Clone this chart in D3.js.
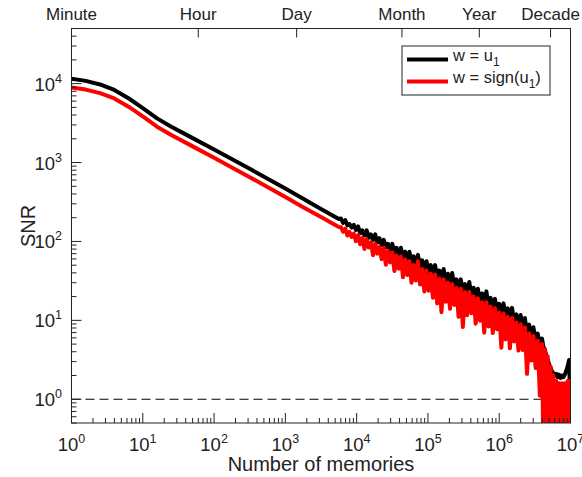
<!DOCTYPE html>
<html><head><meta charset="utf-8">
<script src="https://cdn.jsdelivr.net/npm/d3@7"></script>
<style>body{margin:0;background:#fff}svg text{font-family:"Liberation Sans",Arial,Helvetica,sans-serif;fill:#222}</style>
</head><body>
<script>
// ---- data ----
const smoothLogN = [0, 0.2, 0.4, 0.6, 0.8, 1.0, 1.2, 1.4, 1.7, 2.0, 2.5, 3.0, 3.25, 3.5, 3.75];
const blackSmooth = [11530, 10840, 9770, 8320, 6530, 4900, 3630, 2850, 2040, 1462, 832, 468, 347, 257, 193];
const redSmooth = [8950, 8410, 7590, 6490, 5110, 3850, 2850, 2240, 1603, 1148, 653, 367, 272, 204, 153];

const noisyLogN = [
  3.78,3.81,3.84,3.87,3.90,3.93,3.96,3.99,
  4.02,4.05,4.08,4.11,4.14,4.17,4.20,4.23,4.26,4.29,4.32,4.35,4.38,4.41,4.44,4.47,4.50,
  4.53,4.56,4.59,4.62,4.65,4.68,4.71,4.74,4.77,4.80,4.83,4.86,4.89,4.92,4.95,4.98,
  5.01,5.04,5.07,5.10,5.13,5.16,5.19,5.22,5.25,5.28,5.31,5.34,5.37,5.40,5.43,5.46,5.49,
  5.52,5.55,5.58,5.61,5.64,5.67,5.70,5.73,5.76,5.79,5.82,5.85,5.88,5.91,5.94,5.97,6.00,
  6.03,6.06,6.09,6.12,6.15,6.18,6.21,6.24,6.27,6.30,6.33,6.36,6.39,6.42,6.45,6.48,6.51,6.54,6.57,6.60,
  6.62,6.64,6.66,6.68,6.70,6.72,6.74,6.76,6.78,6.80,6.82,6.84,6.86,6.88,6.90,6.92,6.94,6.96,6.98,7.00
];
const blackNoisy = [
  195,172,186,160,166,150,162,140,
  155,127,138,119,138,111,123,104,123,96.6,110,90.2,105,84.1,93.3,76.7,93.3,
  71.6,83.2,66.8,83.2,62.4,74.1,58.2,74.1,54.3,64.6,50.7,67.6,47.3,57.5,44.2,56.2,
  40.3,50.1,37.6,50.1,35.1,42.7,32.7,44.7,30.5,38.9,28.5,39.8,26.6,33.1,24.8,33.1,23.2,
  28.8,22.0,30.7,20.5,25.9,19.0,25.2,17.6,21.9,16.3,23.3,15.2,19.3,14.1,18.7,13.1,16.2,
  11.8,16.4,10.9,14.2,10.1,14.4,9.35,11.9,8.65,11.7,7.83,10.7,6.95,8.83,6.17,8.18,5.46,6.78,4.84,5.87,
  4.6,4.3,3.5,3.2,2.75,2.5,2.25,2.15,2.0,2.1,1.9,2.05,1.86,2.0,1.9,2.05,2.3,2.6,3.15,0.63
];
const redNoisy = [
  151,133,145,119,132,114,126,101,
  120,92.3,110,80.4,107,84.1,97.7,66.8,93.3,70.0,85.1,59.6,83.2,50.7,75.9,54.3,72.4,
  42.2,66.1,45.2,64.6,35.1,58.9,37.6,56.2,29.9,50.1,32.0,56.2,28.5,44.7,23.2,42.7,
  23.7,38.9,19.3,38.0,16.4,33.9,12.7,33.1,17.2,30.2,14.0,28.8,15.7,25.7,11.1,25.1,8.22,
  22.9,11.6,22.8,12.3,20.1,9.08,19.1,9.91,17.0,6.97,16.9,8.34,15.0,6.90,14.2,7.69,12.6,
  4.50,12.2,5.74,11.0,4.42,10.7,5.38,9.42,4.14,8.91,4.21,8.09,2.10,6.85,3.09,6.35,2.49,5.51,1.11,5.00,
  0.2,4.3,0.15,3.5,0.2,2.6,0.1,2.0,0.2,1.7,0.1,1.6,0.2,1.6,0.1,1.6,0.2,1.7,0.1,1.8
];

const xTickExponents = [0,1,2,3,4,5,6,7];
const yTickExponents = [0,1,2,3,4];
const timeLabels = ["Minute","Hour","Day","Month","Year","Decade"];
const timeMemories = [1, 60, 1440, 43200, 525600, 5256000];
const thresholdSNR = 1;
const seriesNames = ["w = u", "w = sign(u"];
const seriesColors = ["#000000", "#ff0000"];

// ---- layout ----
const W = 582, H = 477;
const L = 71.5, R = 570.5, T = 28.5, B = 423;
const x = d3.scaleLog().domain([1, 1e7]).range([L, R]);
const y = d3.scaleLog().domain([0.5, 5e4]).range([B, T]);

const svg = d3.select("body").append("svg").attr("width", W).attr("height", H);
const axisColor = "#222";

svg.append("clipPath").attr("id","clip").append("rect")
  .attr("x", L).attr("y", T).attr("width", R - L).attr("height", B - T);

function build(logNs, vals) { return logNs.map((l, i) => ({n: Math.pow(10, l), v: vals[i]})); }
const blackData = build(smoothLogN, blackSmooth).concat(build(noisyLogN, blackNoisy));
const redData = build(smoothLogN, redSmooth).concat(build(noisyLogN, redNoisy));

const line = d3.line().x(d => x(d.n)).y(d => y(d.v));
const g = svg.append("g").attr("clip-path", "url(#clip)");

// threshold dashed line
g.append("line").attr("x1", L).attr("x2", R).attr("y1", y(thresholdSNR)).attr("y2", y(thresholdSNR))
  .attr("stroke", "#000").attr("stroke-width", 1.2).attr("stroke-dasharray", "9,5");

[blackData, redData].forEach((data, i) => {
  g.append("path").datum(data).attr("d", line).attr("fill", "none")
    .attr("stroke", seriesColors[i]).attr("stroke-width", 4)
    .attr("stroke-linejoin", "round").attr("stroke-linecap", "butt");
});

// frame
svg.append("rect").attr("x", L).attr("y", T).attr("width", R - L).attr("height", B - T)
  .attr("fill", "none").attr("stroke", axisColor).attr("stroke-width", 1);

// x ticks (bottom, inward)
const xMinor = [];
for (let e = 0; e < 7; e++) for (let m = 2; m <= 9; m++) xMinor.push(m * Math.pow(10, e));
svg.append("g").selectAll("line").data(xMinor).join("line")
  .attr("x1", d => x(d)).attr("x2", d => x(d)).attr("y1", B).attr("y2", B - 5)
  .attr("stroke", axisColor).attr("stroke-width", 1);
svg.append("g").selectAll("line").data(xTickExponents).join("line")
  .attr("x1", d => x(Math.pow(10, d))).attr("x2", d => x(Math.pow(10, d))).attr("y1", B).attr("y2", B - 10)
  .attr("stroke", axisColor).attr("stroke-width", 1);
const xl = svg.append("g").selectAll("text").data(xTickExponents).join("text")
  .attr("x", d => x(Math.pow(10, d))).attr("y", 451).attr("text-anchor", "middle").attr("font-size", 18.5);
xl.append("tspan").text("10");
xl.append("tspan").attr("dy", -8).attr("font-size", 12.5).text(d => d);

// y ticks (left, inward)
const yMinor = [];
for (let e = -1; e < 5; e++) for (let m = 2; m <= 9; m++) {
  const v = m * Math.pow(10, e);
  if (v >= 0.5 && v <= 5e4) yMinor.push(v);
}
svg.append("g").selectAll("line").data(yMinor).join("line")
  .attr("x1", L).attr("x2", L + 5).attr("y1", d => y(d)).attr("y2", d => y(d))
  .attr("stroke", axisColor).attr("stroke-width", 1);
svg.append("g").selectAll("line").data(yTickExponents).join("line")
  .attr("x1", L).attr("x2", L + 10).attr("y1", d => y(Math.pow(10, d))).attr("y2", d => y(Math.pow(10, d)))
  .attr("stroke", axisColor).attr("stroke-width", 1);
const yl = svg.append("g").selectAll("text").data(yTickExponents).join("text")
  .attr("x", 62).attr("y", d => y(Math.pow(10, d)) + 7).attr("text-anchor", "end").attr("font-size", 18.5);
yl.append("tspan").text("10");
yl.append("tspan").attr("dy", -8).attr("font-size", 12.5).text(d => d);

// top time axis
svg.append("g").selectAll("line").data(timeMemories.slice(1)).join("line")
  .attr("x1", d => x(d)).attr("x2", d => x(d)).attr("y1", T).attr("y2", T + 9)
  .attr("stroke", axisColor).attr("stroke-width", 1);
svg.append("g").selectAll("text").data(timeLabels).join("text")
  .attr("x", (d, i) => x(timeMemories[i])).attr("y", 20).attr("text-anchor", "middle")
  .attr("font-size", 17).text(d => d);

// axis labels
svg.append("text").attr("x", (L + R) / 2).attr("y", 471).attr("text-anchor", "middle")
  .attr("font-size", 20).text("Number of memories");
svg.append("text").attr("transform", "translate(35,226) rotate(-90)").attr("text-anchor", "middle")
  .attr("font-size", 20).text("SNR");

// legend
const lg = svg.append("g");
lg.append("rect").attr("x", 402).attr("y", 46).attr("width", 148).attr("height", 49)
  .attr("fill", "#fff").attr("stroke", axisColor).attr("stroke-width", 1);
const rowsY = [59.5, 81.5];
seriesNames.forEach((name, i) => {
  lg.append("line").attr("x1", 407).attr("x2", 448).attr("y1", rowsY[i]).attr("y2", rowsY[i])
    .attr("stroke", seriesColors[i]).attr("stroke-width", 4);
  const t = lg.append("text").attr("x", 453).attr("y", rowsY[i] + 1).attr("font-size", 16.5);
  t.append("tspan").text(name);
  t.append("tspan").attr("dy", 5).attr("font-size", 12).text("1");
  if (i === 1) t.append("tspan").attr("dy", -5).text(")");
});
</script>
</body></html>
